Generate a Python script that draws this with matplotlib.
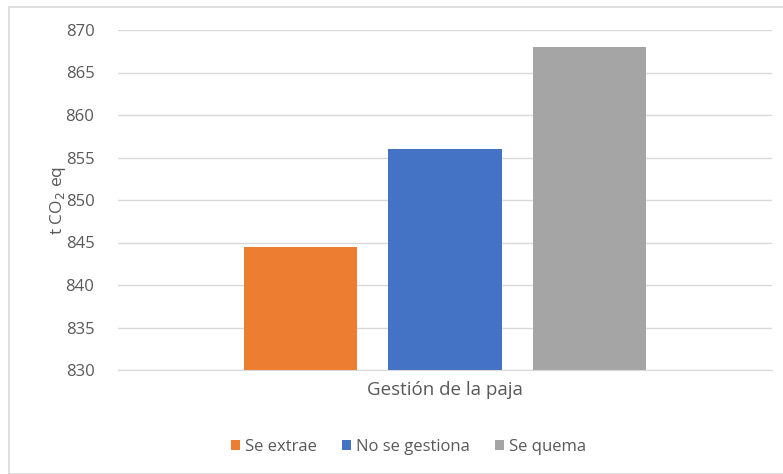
import numpy as np
import matplotlib.pyplot as plt
from matplotlib.patches import Rectangle

plt.rcParams["font.family"] = ["Open Sans", "DejaVu Sans"]

series = ["Se extrae", "No se gestiona", "Se quema"]
values = [844.5, 856, 868]
colors = ["#ed7d31", "#4472c4", "#a5a5a5"]
category = "Gestión de la paja"
yticks = np.arange(830, 871, 5)

textcolor = "#595959"
gridcolor = "#d9d9d9"

fig = plt.figure(figsize=(7.83, 4.74), dpi=100)
ax = fig.add_axes([118/783, 1-370/474, (772-118)/783, 340/474])

width = 0.174
step = 0.221
for i, (name, v, c) in enumerate(zip(series, values, colors)):
	ax.bar((i-1)*step, v-830, bottom=830, width=width, color=c, label=name, zorder=3)

ax.set_xlim(-0.5, 0.5)
ax.set_ylim(830, 870)
ax.set_yticks(yticks)
ax.set_xticks([])
ax.grid(axis="y", color=gridcolor, lw=1, zorder=0)
for s in ["top", "right", "left"]:
	ax.spines[s].set_visible(False)
ax.spines["bottom"].set_color(gridcolor)
ax.tick_params(axis="y", length=0, labelsize=12, labelcolor=textcolor, pad=17)

ax.set_ylabel(r"t CO$_2$ eq", fontsize=12.5, color=textcolor, labelpad=-2)
ax.set_xlabel(category, fontsize=13.5, color=textcolor, labelpad=8)

fig.legend(loc="lower center", bbox_to_anchor=(0.522, 0.008), ncol=3, frameon=False,
	fontsize=12, labelcolor=textcolor, handlelength=0.55, handleheight=0.55,
	handletextpad=0.3, columnspacing=1.5)

fig.patches.append(Rectangle((9/783, 0), 1, 1-7/474, transform=fig.transFigure,
	fill=False, edgecolor=gridcolor, lw=1.2))

plt.savefig("out.png", dpi=100)
